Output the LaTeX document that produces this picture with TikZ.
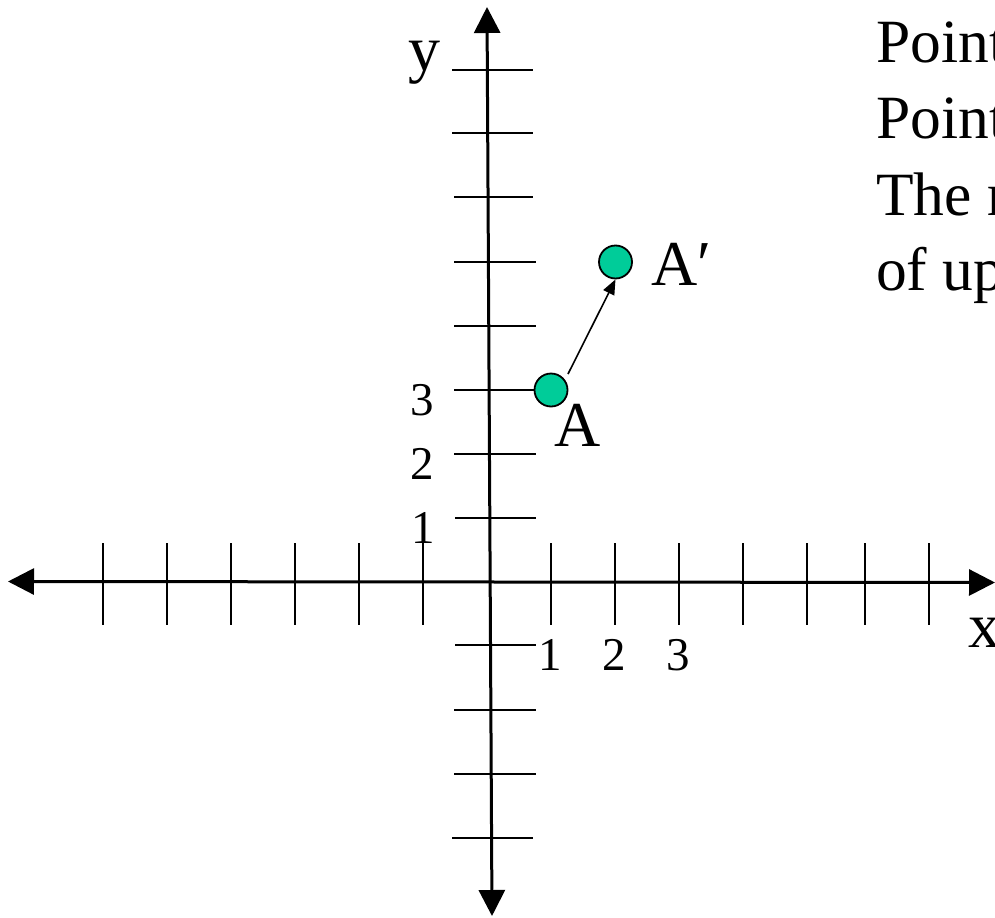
\documentclass[tikz,border=0pt]{standalone}
\usepackage{fontspec}
\setmainfont{Liberation Serif}
\usetikzlibrary{arrows.meta}
\definecolor{ptfill}{RGB}{0,204,153}
\begin{document}
\begin{tikzpicture}[x=1bp,y=-1bp,
  axisline/.style={line width=3bp, {Triangle[length=26bp,width=26bp]}-{Triangle[length=26bp,width=26bp]}},
  tickline/.style={line width=2.6bp},
  pt/.style={circle, draw, line width=1.8bp, fill=ptfill, minimum size=33bp, inner sep=0pt},
  lbl/.style={font=\fontsize{64bp}{64bp}\selectfont, inner sep=0pt},
  num/.style={font=\fontsize{47bp}{47bp}\selectfont, inner sep=0pt, anchor=base},
  txt/.style={font=\fontsize{61.5bp}{61.5bp}\selectfont, inner sep=0pt, anchor=base west}]
\useasboundingbox (0,0) rectangle (995,918);
\clip (0,0) rectangle (995,918);
% y ticks
\foreach \yy/\aa/\bb in {70/452/533, 133/452/533, 197/454/533, 262/454/536, 326/454/536, 390/454/540, 454/454/536, 518/455/536, 645/455/536, 710/454/536, 774/454/536, 838/452/533}
  \draw[tickline] (\aa,\yy) -- (\bb,\yy);
% x ticks
\foreach \xx in {103,167,231,295,359,423,551,615,679,743,807,865,929}
  \draw[tickline] (\xx,543) -- (\xx,625);
% axes
\coordinate (xl) at (8,581.5);
\coordinate (xr) at (995,582.5);
\coordinate (yt) at (487,7);
\coordinate (yb) at (492,916);
\draw[axisline] (xl) -- (xr);
\draw[axisline] (yb) -- (yt);
% axis labels
\node[lbl, anchor=base] (ylab) at (424,70) {y};
\node[lbl, anchor=base west] (xlab) at (968,647) {x};
% numbers
\node[num] (y3) at (422,415) {3};
\node[num] (y2) at (422,479) {2};
\node[num] (y1) at (423,543) {1};
\node[num] (x1) at (550,670) {1};
\node[num] (x2) at (614,670) {2};
\node[num] (x3) at (678,670) {3};
% points
\node[pt] (A) at (551,390) {};
\node[pt] (Ap) at (615.5,262) {};
\node[lbl, anchor=base] (Alab) at (578,446) {A};
\node[lbl, anchor=base west] (Aplab) at (651,285) {A′};
\coordinate (s) at (568,374);
\draw[line width=1.6bp, -{Triangle[length=15bp,width=12bp]}] (s) -- (Ap.south);
% text on the right
\node[txt] (t1) at (876,62) {Point};
\node[txt] (t2) at (876,138) {Point};
\node[txt] (t3) at (876,215) {The r};
\node[txt] (t4) at (876,290) {of up};
\end{tikzpicture}
\end{document}
